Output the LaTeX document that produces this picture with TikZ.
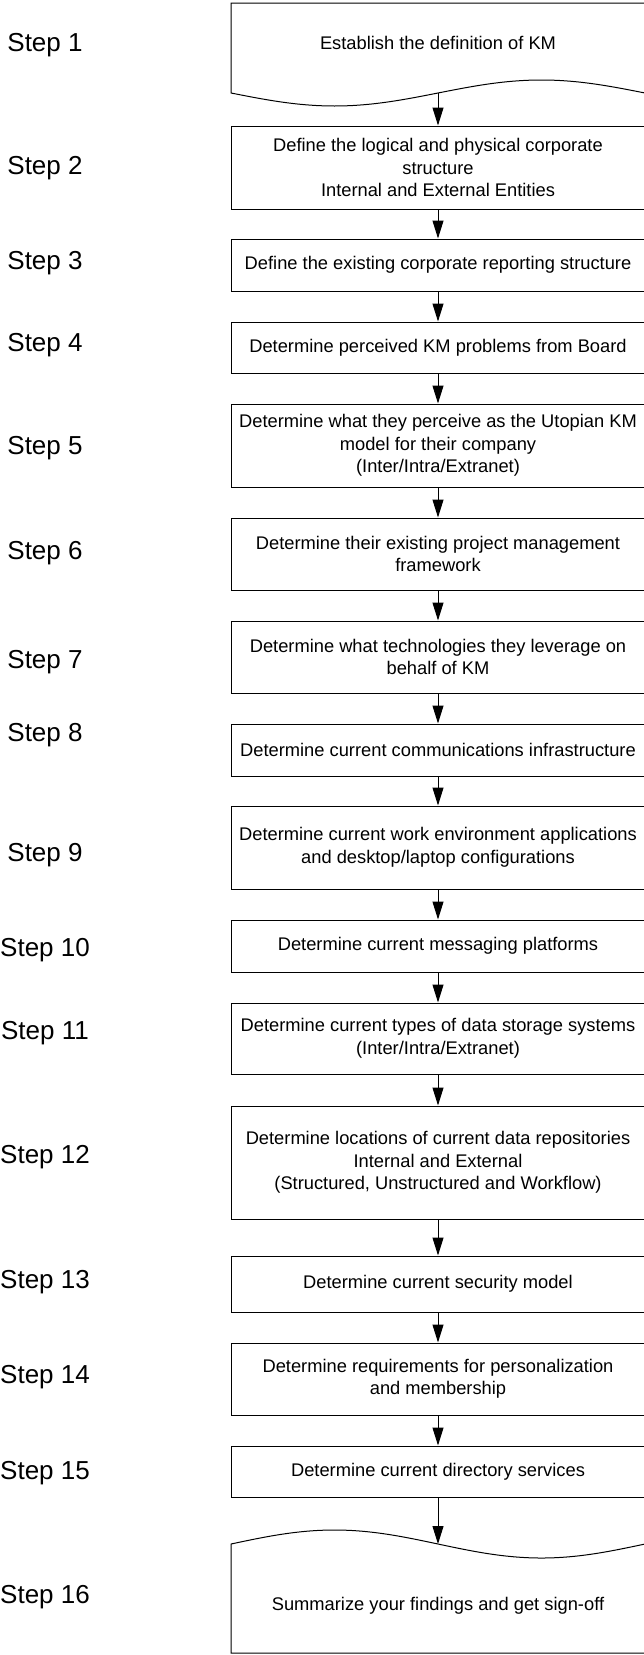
\documentclass[tikz,border=0pt]{standalone}
\usepackage{fontspec}
\setmainfont{Liberation Sans}
\usepackage{tikz}
\usetikzlibrary{arrows.meta}

\newcommand{\kmboxfont}{\fontsize{18.3bp}{22.5bp}\selectfont}
\newcommand{\kmstepfont}{\fontsize{26bp}{30bp}\selectfont}
\tikzset{
  stepbox/.style={draw,rectangle,minimum width=414bp,inner xsep=2bp,align=center,font=\kmboxfont},
  steplabel/.style={font=\kmstepfont},
  flow/.style={-{Triangle[length=18bp,width=11bp]}},
}

\begin{document}
\begin{tikzpicture}[line width=1bp]
\useasboundingbox (0bp,0bp) rectangle (644bp,-1655bp);
\clip (0bp,0bp) rectangle (644bp,-1655bp);

\node[steplabel] (l1) at (45bp,-45bp) {Step 1};
\node[steplabel] (l2) at (45bp,-168bp) {Step 2};
\node[steplabel] (l3) at (45bp,-263bp) {Step 3};
\node[steplabel] (l4) at (45bp,-345bp) {Step 4};
\node[steplabel] (l5) at (45bp,-448bp) {Step 5};
\node[steplabel] (l6) at (45bp,-553bp) {Step 6};
\node[steplabel] (l7) at (45bp,-662bp) {Step 7};
\node[steplabel] (l8) at (45bp,-735bp) {Step 8};
\node[steplabel] (l9) at (45bp,-855bp) {Step 9};
\node[steplabel] (l10) at (45bp,-950bp) {Step 10};
\node[steplabel] (l11) at (45bp,-1033bp) {Step 11};
\node[steplabel] (l12) at (45bp,-1157bp) {Step 12};
\node[steplabel] (l13) at (45bp,-1282bp) {Step 13};
\node[steplabel] (l14) at (45bp,-1377bp) {Step 14};
\node[steplabel] (l15) at (45bp,-1473bp) {Step 15};
\node[steplabel] (l16) at (45bp,-1597bp) {Step 16};

% document shapes for first and last step
\draw (645bp,-93bp) -- (645bp,-3bp) -- (231bp,-3bp) -- (231bp,-93bp) sin (334.5bp,-106bp) cos (438bp,-93bp) sin (541.5bp,-80bp) cos (645bp,-93bp);
\draw (231bp,-1544bp) sin (334.5bp,-1530bp) cos (438bp,-1544bp) sin (541.5bp,-1558bp) cos (645bp,-1544bp) -- (645bp,-1653bp) -- (231bp,-1653bp) -- cycle;

\node[font=\kmboxfont] (s1) at (438bp,-43bp) {Establish the definition of KM};
\coordinate (s1b) at (438bp,-93bp);
\node[stepbox,minimum height=83bp] (s2) at (438bp,-167.5bp) {Define the logical and physical corporate\\structure\\Internal and External Entities};
\node[stepbox,minimum height=52bp] (s3) at (438bp,-265bp) {Define the existing corporate reporting structure};
\node[stepbox,minimum height=51bp] (s4) at (438bp,-347.5bp) {Determine perceived KM problems from Board};
\node[stepbox,minimum height=83bp] (s5) at (438bp,-445.5bp) {Determine what they perceive as the Utopian KM\\model for their company\\(Inter/Intra/Extranet)};
\node[stepbox,minimum height=72bp] (s6) at (438bp,-554bp) {Determine their existing project management\\framework};
\node[stepbox,minimum height=72bp] (s7) at (438bp,-657bp) {Determine what technologies they leverage on\\behalf of KM};
\node[stepbox,minimum height=52bp] (s8) at (438bp,-750bp) {Determine current communications infrastructure};
\node[stepbox,minimum height=83bp] (s9) at (438bp,-847.5bp) {Determine current work environment applications\\and desktop/laptop configurations};
\node[stepbox,minimum height=52bp] (s10) at (438bp,-946bp) {Determine current messaging platforms};
\node[stepbox,minimum height=71bp] (s11) at (438bp,-1038.5bp) {Determine current types of data storage systems\\(Inter/Intra/Extranet)};
\node[stepbox,minimum height=113bp] (s12) at (438bp,-1162.5bp) {Determine locations of current data repositories\\Internal and External\\(Structured, Unstructured and Workflow)};
\node[stepbox,minimum height=56bp] (s13) at (438bp,-1284bp) {Determine current security model};
\node[stepbox,minimum height=72bp] (s14) at (438bp,-1379bp) {Determine requirements for personalization\\and membership};
\node[stepbox,minimum height=51bp] (s15) at (438bp,-1471.5bp) {Determine current directory services};
\coordinate (s16t) at (438bp,-1544bp);
\node[font=\kmboxfont] (s16) at (438bp,-1606bp) {Summarize your findings and get sign-off};

\draw[flow] (s1b) -- (s2);
\draw[flow] (s2) -- (s3);
\draw[flow] (s3) -- (s4);
\draw[flow] (s4) -- (s5);
\draw[flow] (s5) -- (s6);
\draw[flow] (s6) -- (s7);
\draw[flow] (s7) -- (s8);
\draw[flow] (s8) -- (s9);
\draw[flow] (s9) -- (s10);
\draw[flow] (s10) -- (s11);
\draw[flow] (s11) -- (s12);
\draw[flow] (s12) -- (s13);
\draw[flow] (s13) -- (s14);
\draw[flow] (s14) -- (s15);
\draw[flow] (s15) -- (s16t);
\end{tikzpicture}
\end{document}
